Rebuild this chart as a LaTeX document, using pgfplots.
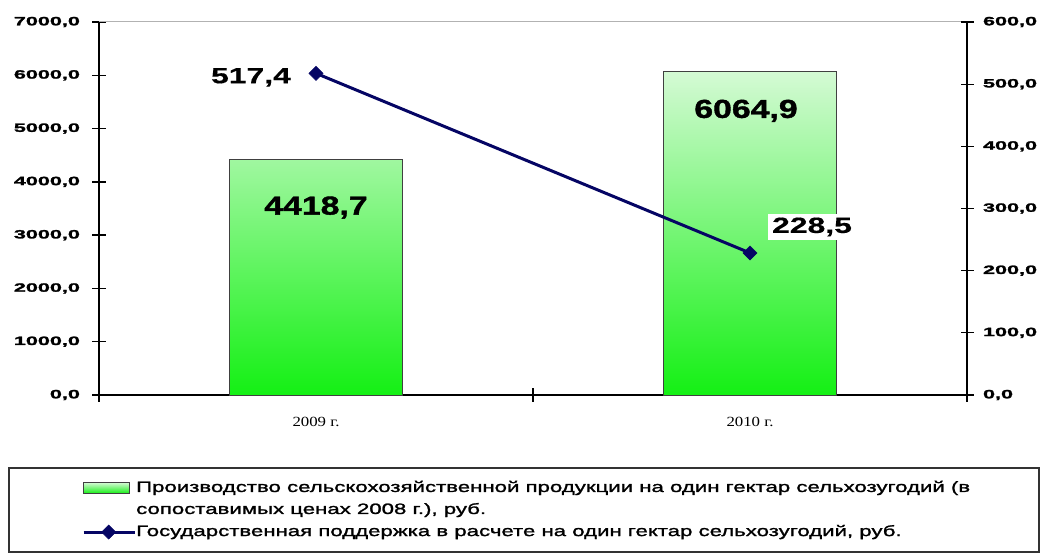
\documentclass[border=0pt]{standalone}
\usepackage{fontspec}
\usepackage{pgfplots}
\pgfplotsset{compat=1.18}
\setmainfont{Liberation Sans}
\newfontfamily\tickfam[FakeStretch=1.8,FakeBold=2]{Liberation Sans}
\newfontfamily\datafam[FakeStretch=1.45,FakeBold=0.5]{Liberation Sans}
\newfontfamily\barfam[FakeStretch=1.3,FakeBold=1.5]{Liberation Sans}
\newfontfamily\legfam[FakeStretch=1.48,FakeBold=1.5]{Liberation Sans}
\newfontfamily\catfam[FakeStretch=1.2]{Liberation Serif}
\definecolor{lightg}{RGB}{212,250,212}
\definecolor{darkg}{RGB}{20,240,20}
\definecolor{navyl}{RGB}{5,5,100}
\pgfplotsset{mylineleg/.style={legend image code/.code={\draw[mark repeat=2, mark phase=2, ##1] plot coordinates {(0pt,0pt) (25pt,0pt) (51pt,0pt)};}}}
\begin{document}
\begin{tikzpicture}[x=1pt,y=1pt]
\useasboundingbox (0,0) rectangle (1043,554);
\begin{axis}[
  at={(99pt,159pt)}, anchor=south west,
  scale only axis, width=868pt, height=373pt,
  xmin=-0.5, xmax=1.5, ymin=0, ymax=7000,
  axis x line*=bottom, axis y line*=left,
  axis line style={-, line width=1.3pt, black},
  xtick={-0.5,0.5,1.5}, xticklabels={,,},
  extra x ticks={0,1}, extra x tick labels={2009 г.,2010 г.},
  extra x tick style={major tick length=0pt,
    xticklabel style={font=\catfam\fontsize{14}{16}\selectfont, yshift=-19pt}},
  ytick={0,1000,...,7000},
  scaled y ticks=false,
  tick align=center, major tick length=13pt,
  tick style={line width=1.3pt, black},
  yticklabel style={font=\tickfam\bfseries\fontsize{12}{14}\selectfont, xshift=-9pt,
    /pgf/number format/.cd, fixed, fixed zerofill, precision=1, use comma, 1000 sep={}, assume math mode=true},
  clip=false,
]
\draw[gray!60, line width=1pt] (rel axis cs:0,1) -- (rel axis cs:1,1);
\addplot[ybar, bar width=0.4, draw=black!75, line width=0.9pt, top color=lightg, bottom color=darkg]
  coordinates {(0,4418.7) (1,6064.9)};
\node[font=\barfam\bfseries\fontsize{26}{28}\selectfont] at (axis cs:0,4418.7) [yshift=-48pt] {4418,7};
\node[font=\barfam\bfseries\fontsize{26}{28}\selectfont] at (axis cs:1,6064.9) [yshift=-39pt, xshift=-4pt] {6064,9};
\end{axis}
\begin{axis}[
  at={(99pt,159pt)}, anchor=south west,
  scale only axis, width=868pt, height=373pt,
  xmin=-0.5, xmax=1.5, ymin=0, ymax=600,
  axis x line=none, axis y line*=right,
  axis line style={-, line width=1.3pt, black},
  ytick={0,100,...,600},
  tick align=center, major tick length=13pt,
  tick style={line width=1.3pt, black},
  yticklabel style={font=\tickfam\bfseries\fontsize{12}{14}\selectfont, xshift=6pt,
    /pgf/number format/.cd, fixed, fixed zerofill, precision=1, use comma, 1000 sep={}, assume math mode=true},
  clip=false,
  legend style={at={(-0.0196,-0.2300)}, anchor=north west, draw=none, fill=none,
    inner sep=0pt, row sep=8pt,
    font=\legfam\fontsize{15}{17}\selectfont,
    nodes={inner sep=0pt, text height=11pt, text depth=3pt},
    /tikz/every odd column/.append style={column sep=0pt}},
  legend cell align=left,
]
\addlegendimage{legend image code/.code={\draw[draw=black!75, line width=0.9pt, top color=lightg, bottom color=darkg] (0pt,-5.5pt) rectangle (46pt,5.5pt);}}
\addlegendentry{Производство сельскохозяйственной продукции на один гектар сельхозугодий (в}
\addlegendimage{empty legend}
\addlegendentry{сопоставимых ценах 2008 г.), руб.}
\addplot[navyl, line width=3pt, mark=square*, mark size=5pt, mark options={rotate=45, solid, line width=0.5pt}, mylineleg]
  coordinates {(0,517.4) (1,228.5)};
\addlegendentry{Государственная поддержка в расчете на один гектар сельхозугодий, руб.}
\node[font=\datafam\bfseries\fontsize{22}{24}\selectfont, fill=white, inner sep=3pt] at (axis cs:0,517.4) [xshift=-65pt, yshift=-4pt] {517,4};
\node[font=\datafam\bfseries\fontsize{22}{24}\selectfont, fill=white, inner sep=4pt] at (axis cs:1,228.5) [xshift=62pt, yshift=26pt] {228,5};
\end{axis}
\draw[line width=1.2pt, black!80] (9,86) rectangle (1039,2);
\end{tikzpicture}
\end{document}
